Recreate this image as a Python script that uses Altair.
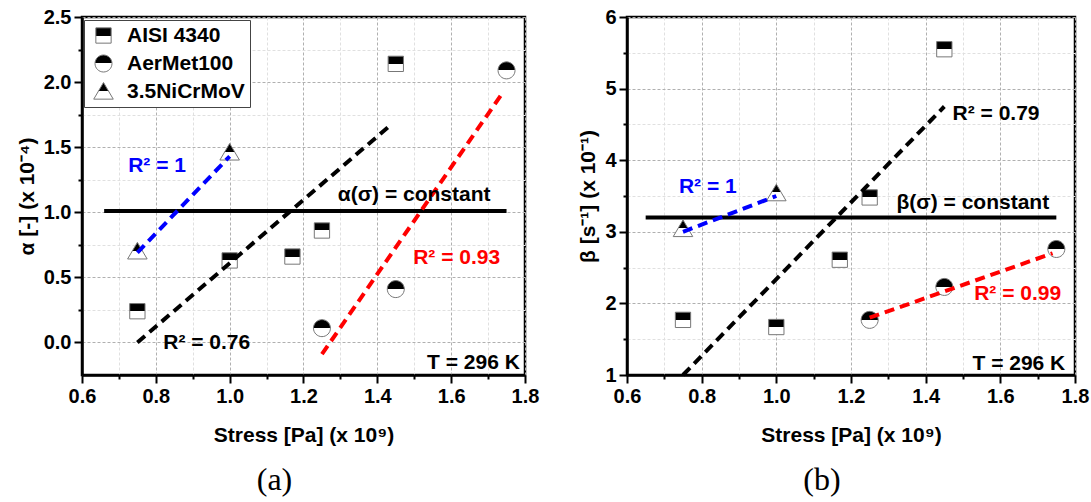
import altair as alt
import pandas as pd

FONT = "Liberation Sans"
SERIF = "Liberation Serif"

# ---------------- data ----------------
materials = ["AISI 4340", "AerMet100", "3.5NiCrMoV"]

stress_aisi = [0.75, 1.00, 1.17, 1.25, 1.45]
alpha_aisi = [0.24, 0.63, 0.66, 0.86, 2.14]
beta_aisi = [1.77, 1.67, 2.61, 3.48, 5.55]

stress_aermet = [1.25, 1.45, 1.75]
alpha_aermet = [0.11, 0.41, 2.09]
beta_aermet = [1.77, 2.23, 2.76]

stress_ni = [0.75, 1.00]
alpha_ni = [0.70, 1.46]
beta_ni = [3.04, 3.54]

# linear fits (end points) and constant model
fit_colors = ["#0000ff", "#000000", "#ff0000"]
alpha_fit_x = [[0.75, 1.00], [0.75, 1.44], [1.25, 1.74]]
alpha_fit_y = [[0.69, 1.43], [0.00, 1.68], [-0.09, 1.92]]
beta_fit_x = [[0.75, 1.00], [0.75, 1.45], [1.25, 1.74]]
beta_fit_y = [[3.00, 3.50], [1.00, 4.75], [1.80, 2.70]]

alpha_const_x = [0.66, 1.75]
alpha_const_y = [1.01, 1.01]
beta_const_x = [0.65, 1.75]
beta_const_y = [3.20, 3.20]

# annotations
alpha_notes = ["R² = 1", "α(σ) = constant", "R² = 0.93", "R² = 0.76"]
alpha_notes_x = [0.725, 1.293, 1.497, 0.82]
alpha_notes_y = [1.356, 1.133, 0.651, -0.003]
alpha_notes_c = ["#0000ff", "#000000", "#ff0000", "#000000"]

beta_notes = ["R² = 1", "β(σ) = constant", "R² = 0.79", "R² = 0.99"]
beta_notes_x = [0.739, 1.322, 1.472, 1.53]
beta_notes_y = [3.63, 3.40, 4.64, 2.13]
beta_notes_c = ["#0000ff", "#000000", "#000000", "#ff0000"]

temp_note = ["T = 296 K"]
alpha_temp_x = [1.786]
alpha_temp_y = [-0.154]
beta_temp_x = [1.774]
beta_temp_y = [1.15]

# ticks
x_ticks = [0.6, 0.7, 0.8, 0.9, 1.0, 1.1, 1.2, 1.3, 1.4, 1.5, 1.6, 1.7, 1.8]
alpha_ticks = [0.0, 0.25, 0.5, 0.75, 1.0, 1.25, 1.5, 1.75, 2.0, 2.25, 2.5]
beta_ticks = [1, 1.5, 2, 2.5, 3, 3.5, 4, 4.5, 5, 5.5, 6]

x_title = "Stress [Pa] (x 10⁹)"
alpha_title = "α [-] (x 10⁻⁴)"
beta_title = "β [s⁻¹] (x 10⁻¹)"

# ---------------- styling helpers ----------------
half_fill = alt.LinearGradient(
    gradient="linear",
    stops=[
        alt.GradientStop(color="black", offset=0),
        alt.GradientStop(color="black", offset=0.5),
        alt.GradientStop(color="white", offset=0.5),
        alt.GradientStop(color="white", offset=1),
    ],
    x1=0, x2=0, y1=0, y2=1,
)
shape_paths = [
    "M-0.9,-0.9L0.9,-0.9L0.9,0.9L-0.9,0.9Z",
    "M-1,0A1,1,0,1,1,1,0A1,1,0,1,1,-1,0Z",
    "M0,-1.05L1.15,0.9L-1.15,0.9Z",
]


def make_axis(values, test, fmt, title, orient, title_pad):
    return alt.Axis(
        values=values, orient=orient, title=title,
        labelExpr=f"({test}) ? format(datum.value, '{fmt}') : ''",
        grid=True,
        gridColor={"condition": {"test": test, "value": "#b0b0b0"}, "value": "#e0e0e0"},
        gridDash=[3, 2], gridWidth=1,
        tickColor="black", tickWidth=2, tickSize=8,
        tickDash={"condition": {"test": test, "value": [10, 0]}, "value": [4, 30]},
        domainColor="black", domainWidth=2.5,
        labelFont=FONT, labelFontSize=20, labelFontWeight="bold", labelColor="black",
        labelPadding=3, labelFlush=False, labelOverlap=False,
        titleFont=FONT, titleFontSize=21, titleFontWeight="bold", titleColor="black",
        titlePadding=title_pad,
    )


def panel(pts_x, pts_y, fit_x, fit_y, cx, cy, notes, nx, ny, nc, tx, ty,
          ydomain, yticks, ytest, yfmt, ytitle, caption, width, height):
    xs = alt.Scale(domain=[0.6, 1.8], nice=False, zero=False)
    ys = alt.Scale(domain=ydomain, nice=False, zero=False)
    X = alt.X("x:Q", scale=xs,
              axis=make_axis(x_ticks, "round(datum.value*10) % 2 == 0", ".1f", x_title, "bottom", 18))
    Y = alt.Y("y:Q", scale=ys,
              axis=make_axis(yticks, ytest, yfmt, ytitle, "left", 6))

    mats = []
    for m, xs_ in zip(materials, pts_x):
        mats += [m] * len(xs_)
    pts = pd.DataFrame({"x": sum(pts_x, []), "y": sum(pts_y, []), "m": mats})

    rows = []
    for i, (fx, fy) in enumerate(zip(fit_x, fit_y)):
        for a, b in zip(fx, fy):
            rows.append({"x": a, "y": b, "g": i, "c": fit_colors[i]})
    fits = pd.DataFrame(rows)
    const = pd.DataFrame({"x": cx, "y": cy})
    notes_df = pd.DataFrame({"x": nx, "y": ny, "t": notes, "c": nc})
    temp_df = pd.DataFrame({"x": tx, "y": ty, "t": temp_note})

    legend = alt.Legend(
        title="", orient="none", legendX=2, legendY=3, direction="vertical",
        labelFont=FONT, labelFontSize=21, labelFontWeight="bold", labelColor="black",
        symbolSize=289, symbolStrokeWidth=1, padding=5, rowPadding=6,
        labelOffset=13, symbolOffset=4, strokeColor="#444", fillColor="white",
        cornerRadius=0, labelLimit=300,
    )

    points = alt.Chart(pts).mark_point(
        filled=True, fill=half_fill, stroke="#777777", strokeWidth=1, opacity=1, size=289
    ).encode(
        x=X, y=Y,
        shape=alt.Shape("m:N", scale=alt.Scale(domain=materials, range=shape_paths),
                        sort=materials, legend=legend),
    )
    const_line = alt.Chart(const).mark_line(color="black", strokeWidth=4).encode(x=X, y=Y)
    fit_lines = alt.Chart(fits).mark_line(strokeWidth=4, strokeDash=[10, 6]).encode(
        x=X, y=Y, detail="g:N", color=alt.Color("c:N", scale=None))
    note_text = alt.Chart(notes_df).mark_text(
        align="left", baseline="middle", font=FONT, fontSize=21, fontWeight="bold"
    ).encode(x=X, y=Y, text="t:N", color=alt.Color("c:N", scale=None))
    temp_text = alt.Chart(temp_df).mark_text(
        align="right", baseline="middle", font=FONT, fontSize=21, fontWeight="bold", color="black"
    ).encode(x=X, y=Y, text="t:N")

    return alt.layer(points, const_line, fit_lines, note_text, temp_text).properties(
        width=width, height=height,
        title=alt.TitleParams(caption, orient="bottom", anchor="middle", frame="group",
                              font=SERIF, fontSize=32, fontWeight="normal", color="black",
                              dx=-29, offset=20),
    )


left = panel(
    [stress_aisi, stress_aermet, stress_ni], [alpha_aisi, alpha_aermet, alpha_ni],
    alpha_fit_x, alpha_fit_y, alpha_const_x, alpha_const_y,
    alpha_notes, alpha_notes_x, alpha_notes_y, alpha_notes_c, alpha_temp_x, alpha_temp_y,
    [-0.25, 2.5], alpha_ticks, "round(datum.value*4) % 2 == 0", ".1f", alpha_title, "(a)", 443, 358,
)
right = panel(
    [stress_aisi, stress_aermet, stress_ni], [beta_aisi, beta_aermet, beta_ni],
    beta_fit_x, beta_fit_y, beta_const_x, beta_const_y,
    beta_notes, beta_notes_x, beta_notes_y, beta_notes_c, beta_temp_x, beta_temp_y,
    [1, 6], beta_ticks, "round(datum.value*2) % 2 == 0", "d", beta_title, "(b)", 448, 358,
)

chart = alt.hconcat(left, right, spacing=35).properties(
    padding={"left": 14, "top": 5, "right": 0, "bottom": 0},
    background="white",
).configure_view(stroke="black", strokeWidth=2.5)

chart.save("out.html", embed_options={"renderer": "svg", "actions": False})
